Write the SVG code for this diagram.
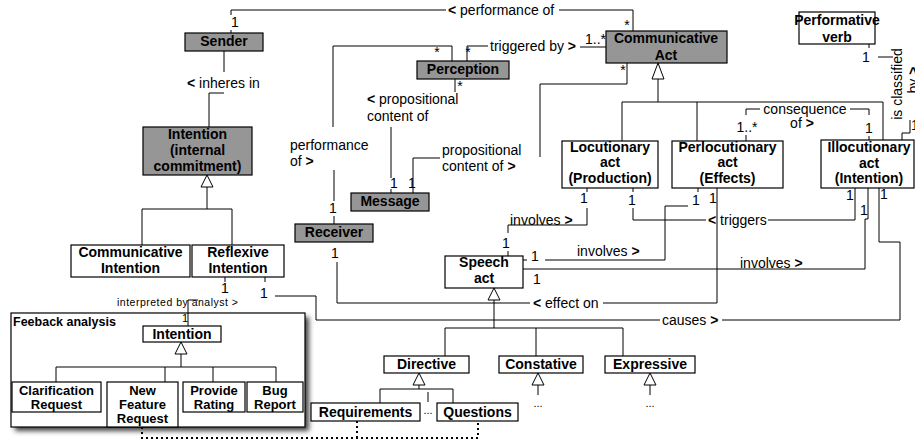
<svg xmlns="http://www.w3.org/2000/svg" width="915" height="440" viewBox="0 0 915 440">
<style>
.box{fill:#fff;stroke:#000;stroke-width:1.2}
.gray{fill:#969696}
.t{font-family:"Liberation Sans",Arial,Helvetica,sans-serif;font-size:14px;font-weight:bold;text-anchor:middle;fill:#000}
.f{font-size:13px}
.l{font-family:"Liberation Sans",Arial,Helvetica,sans-serif;font-size:14px;fill:#000}
.m{font-family:"Liberation Sans",Arial,Helvetica,sans-serif;font-size:14px;fill:#000;text-anchor:middle}
.b{font-weight:bold}
.c{fill:none;stroke:#000;stroke-width:1}
.tri{fill:#fff;stroke:#000;stroke-width:1}
.dot{fill:none;stroke:#000;stroke-width:2;stroke-dasharray:2 3}
</style>
<defs>
<filter id="sh" x="-10%" y="-10%" width="130%" height="130%">
<feGaussianBlur stdDeviation="2.5"/>
</filter>
</defs>

<g id="feedback-frame">
<rect x="15" y="317" width="294" height="114" fill="#444" filter="url(#sh)"/>
<rect x="11" y="313" width="294" height="114" class="box"/>
<text x="13" y="326" class="l b" style="font-size:12.5px">Feeback analysis</text>
</g>

<g id="connectors">
<!-- performance of (Sender - Communicative Act) -->
<path class="c" d="M231,15 V10 H446 M559,10 H633 V31 M231,30 V33"/>
<text x="448" y="15" class="l"><tspan class="b">&lt;</tspan> performance of</text>
<text x="235" y="27" class="m">1</text>
<text x="627" y="30" class="m">*</text>
<!-- inheres in -->
<path class="c" d="M224,51 V72 M224,93 H209 V127"/>
<text x="187" y="88" class="l"><tspan class="b">&lt;</tspan> inheres in</text>
<!-- performance of > (Perception - Receiver) -->
<path class="c" d="M452,61 V46 H333 V127 M334,170 V201 M334,216 V224"/>
<text x="290" y="150" class="l">performance</text>
<text x="290" y="166" class="l">of <tspan class="b">&gt;</tspan></text>
<text x="437" y="57" class="m">*</text>
<text x="333" y="213" class="m">1</text>
<!-- triggered by -->
<path class="c" d="M467,61 V46 H488 M580,47 H606"/>
<text x="490" y="51" class="l">triggered by <tspan class="b">&gt;</tspan></text>
<text x="468" y="57" class="m">*</text>
<text x="585" y="44" class="l">1..*</text>
<!-- < propositional content of (Perception - Message) -->
<path class="c" d="M455,79 V92 M391,127 V178 M391,189 V193"/>
<text x="367" y="104" class="l"><tspan class="b">&lt;</tspan> propositional</text>
<text x="367" y="121" class="l">content of</text>
<text x="460" y="91" class="m">*</text>
<text x="394" y="188" class="m">1</text>
<!-- propositional content of > (Message - Communicative Act) -->
<path class="c" d="M413,193 V158 H440 M540,157 V84 H627 V63"/>
<text x="442" y="155" class="l">propositional</text>
<text x="442" y="171" class="l">content of <tspan class="b">&gt;</tspan></text>
<text x="412" y="188" class="m">1</text>
<text x="623" y="75" class="m">*</text>
<!-- generalization Intention -->
<polygon class="tri" points="207,175 201,187 213,187"/>
<path class="c" d="M207,187 V209 M142,245 V209 H232 V245"/>
<!-- generalization Communicative Act -->
<polygon class="tri" points="658,63 652,79 664,79"/>
<path class="c" d="M658,79 V102 M622,141 V102 H883 V140 M697,102 V141"/>
<!-- consequence of -->
<path class="c" d="M746,115 V109 H760 M850,109 H869 V115 M746,135 V141 M869,136 V140"/>
<text x="805" y="114" class="m">consequence</text>
<text x="802" y="128" class="m">of <tspan class="b">&gt;</tspan></text>
<text x="747" y="132" class="m">1..*</text>
<text x="869" y="133" class="m">1</text>
<!-- is classified by -->
<path class="c" d="M869,44 V48 M878,57 H893 M910,120 V133 H902 V140"/>
<text x="866" y="62" class="m">1</text>
<text class="m" transform="translate(902,84) rotate(-90)">is classified</text>
<text class="m" transform="translate(918,80) rotate(-90)">by <tspan class="b">&gt;</tspan></text>
<text x="911" y="130" class="l">1</text>
<!-- involves (Locutionary - Speech act) -->
<path class="c" d="M587,188 V192 M587,208 V225 H508 V233 M508,251 V256"/>
<text x="510" y="225" class="l">involves <tspan class="b">&gt;</tspan></text>
<text x="584" y="203" class="m">1</text>
<text x="506" y="248" class="m">1</text>
<!-- involves (Perlocutionary - Speech act) -->
<path class="c" d="M698,188 V192 M688,206 H665 V260 H545 M523,260 H527"/>
<text x="577" y="256" class="l">involves <tspan class="b">&gt;</tspan></text>
<text x="696" y="205" class="m">1</text>
<text x="535" y="261" class="m">1</text>
<!-- involves (Illocutionary - Speech act) -->
<path class="c" d="M523,269 H865 V219 H868 V188"/>
<text x="740" y="268" class="l">involves <tspan class="b">&gt;</tspan></text>
<text x="537" y="284" class="m">1</text>
<text x="864" y="215" class="m">1</text>
<!-- triggers -->
<path class="c" d="M633,188 V192 M633,208 V220 H706 M768,220 H855 V188"/>
<text x="708" y="225" class="l"><tspan class="b">&lt;</tspan> triggers</text>
<text x="632" y="205" class="m">1</text>
<text x="850" y="200" class="m">1</text>
<!-- effect on -->
<path class="c" d="M337,262 V303 H530 M603,303 H717 V188"/>
<text x="533" y="308" class="l"><tspan class="b">&lt;</tspan> effect on</text>
<text x="335" y="258" class="m">1</text>
<text x="713" y="203" class="m">1</text>
<!-- causes -->
<path class="c" d="M265,277 V282 M275,296 H316 V320 H660 M722,320 H900 V242 H879 V188"/>
<text x="662" y="325" class="l">causes <tspan class="b">&gt;</tspan></text>
<text x="264" y="298" class="m">1</text>
<text x="884" y="199" class="m">1</text>
<!-- interpreted by analyst -->
<path class="c" d="M225,277 V282 M188,326 V300 H198"/>
<text x="117" y="306" class="l" style="font-size:10.5px" textLength="121" lengthAdjust="spacing">interpreted by analyst &gt;</text>
<text x="225" y="293" class="m">1</text>
<text x="185" y="322" class="m" style="font-size:11px">1</text>
<!-- generalization Speech act -->
<polygon class="tri" points="494,288 488,300 500,300"/>
<path class="c" d="M494,300 V328 M445,356 V328 H623 V356 M536,328 V356"/>
<!-- generalization Directive -->
<polygon class="tri" points="419,373 413,385 425,385"/>
<path class="c" d="M419,385 V389 M380,403 V389 H453 V403 M428,392 V402"/>
<text x="428" y="414" class="m" style="font-size:11px">...</text>
<!-- Constative / Expressive -->
<polygon class="tri" points="538,373 532,385 544,385"/>
<path class="c" d="M538,385 V395"/>
<text x="538" y="407" class="m" style="font-size:11px">...</text>
<polygon class="tri" points="650,373 644,385 656,385"/>
<path class="c" d="M650,385 V395"/>
<text x="650" y="407" class="m" style="font-size:11px">...</text>
<!-- dotted -->
<path class="dot" d="M142,427 V438 H478 V421 M357,421 V438"/>
<!-- generalization feedback Intention -->
<polygon class="tri" points="181,342 175,354 187,354"/>
<path class="c" d="M181,354 V367 M56,382 V367 H276 V382 M165,367 V382 M213,367 V382"/>
</g>

<g id="sender"><rect x="185" y="33" width="78" height="18" class="box gray"/><text x="224" y="46" class="t">Sender</text></g>
<g id="intention-internal"><rect x="143" y="127" width="109" height="48" class="box gray"/><text x="197.5" y="139" class="t">Intention</text><text x="197.5" y="155" class="t">(internal</text><text x="197.5" y="171" class="t">commitment)</text></g>
<g id="communicative-intention"><rect x="71" y="245" width="119" height="32" class="box"/><text x="130.5" y="257" class="t">Communicative</text><text x="130.5" y="273" class="t">Intention</text></g>
<g id="reflexive-intention"><rect x="192" y="245" width="92" height="32" class="box"/><text x="238" y="257" class="t">Reflexive</text><text x="238" y="273" class="t">Intention</text></g>
<g id="perception"><rect x="417" y="61" width="92" height="18" class="box gray"/><text x="463" y="74" class="t">Perception</text></g>
<g id="message"><rect x="351" y="193" width="78" height="18" class="box gray"/><text x="390" y="206" class="t">Message</text></g>
<g id="receiver"><rect x="295" y="224" width="78" height="18" class="box gray"/><text x="334" y="237" class="t">Receiver</text></g>
<g id="communicative-act"><rect x="606" y="31" width="121" height="32" class="box gray"/><text x="666" y="43" class="t">Communicative</text><text x="666" y="60" class="t">Act</text></g>
<g id="performative-verb"><rect x="799" y="12" width="76" height="32" class="box"/><text x="837" y="25" class="t">Performative</text><text x="837" y="42" class="t">verb</text></g>
<g id="locutionary-act"><rect x="562" y="141" width="96" height="47" class="box"/><text x="610" y="152" class="t">Locutionary</text><text x="610" y="167" class="t">act</text><text x="610" y="183" class="t">(Production)</text></g>
<g id="perlocutionary-act"><rect x="672" y="141" width="111" height="47" class="box"/><text x="727.5" y="152" class="t">Perlocutionary</text><text x="727.5" y="167" class="t">act</text><text x="727.5" y="183" class="t">(Effects)</text></g>
<g id="illocutionary-act"><rect x="821" y="140" width="93" height="48" class="box"/><text x="869" y="152" class="t">Illocutionary</text><text x="869" y="168" class="t">act</text><text x="869" y="183" class="t">(Intention)</text></g>
<g id="speech-act"><rect x="445" y="256" width="78" height="32" class="box"/><text x="484" y="267" class="t">Speech</text><text x="484" y="283" class="t">act</text></g>
<g id="directive"><rect x="384" y="356" width="85" height="17" class="box"/><text x="426.5" y="369" class="t">Directive</text></g>
<g id="constative"><rect x="499" y="356" width="84" height="17" class="box"/><text x="541" y="369" class="t">Constative</text></g>
<g id="expressive"><rect x="605" y="356" width="90" height="17" class="box"/><text x="650" y="369" class="t">Expressive</text></g>
<g id="requirements"><rect x="311" y="403" width="109" height="18" class="box"/><text x="365.5" y="417" class="t">Requirements</text></g>
<g id="questions"><rect x="437" y="403" width="81" height="18" class="box"/><text x="477.5" y="417" class="t">Questions</text></g>
<g id="fb-intention"><rect x="143" y="326" width="78" height="16" class="box"/><text x="182" y="339" class="t">Intention</text></g>
<g id="clarification-request"><rect x="12" y="382" width="89" height="30" class="box"/><text x="56.5" y="395" class="t f">Clarification</text><text x="56.5" y="409" class="t f">Request</text></g>
<g id="new-feature-request"><rect x="107" y="382" width="71" height="45" class="box"/><text x="142.5" y="395" class="t f">New</text><text x="142.5" y="409" class="t f">Feature</text><text x="142.5" y="423" class="t f">Request</text></g>
<g id="provide-rating"><rect x="183" y="382" width="62" height="30" class="box"/><text x="214" y="395" class="t f">Provide</text><text x="214" y="409" class="t f">Rating</text></g>
<g id="bug-report"><rect x="247" y="382" width="56" height="30" class="box"/><text x="275" y="395" class="t f">Bug</text><text x="275" y="409" class="t f">Report</text></g>
</svg>
